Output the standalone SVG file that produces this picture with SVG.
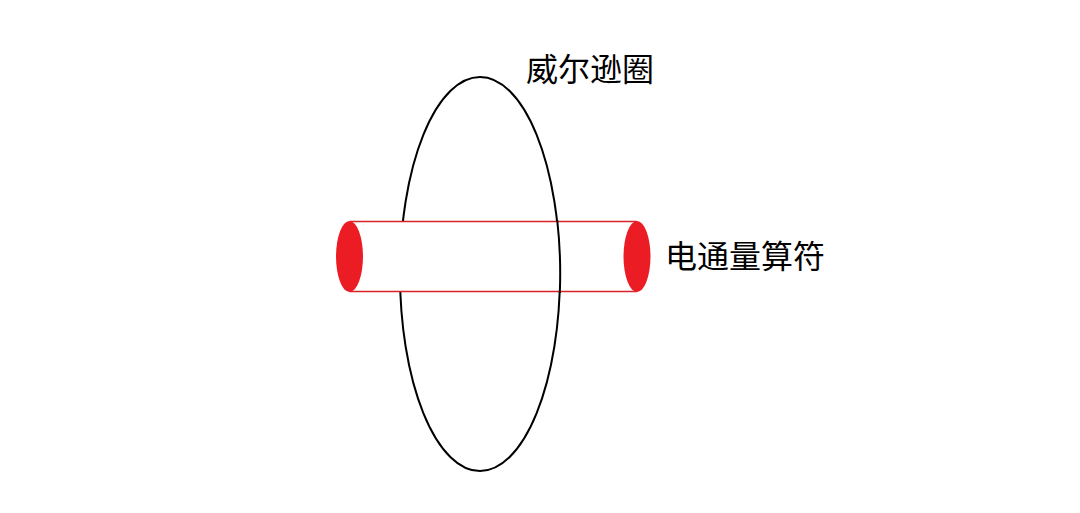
<svg xmlns="http://www.w3.org/2000/svg" width="1080" height="513" viewBox="0 0 1080 513">
<style>
.lbl{font-family:"Noto Sans CJK SC","Noto Sans",sans-serif;font-size:32px;fill:#000}
.loop{fill:none;stroke:#000;stroke-width:2}
.cap{fill:#ec1c24}
.tube{stroke:#d9232a;stroke-width:1.6}
</style>
<rect width="1080" height="513" fill="#fff"/>
<g id="wilson-loop">
<ellipse class="loop" cx="480" cy="274" rx="80" ry="197"/>
</g>
<g id="flux-operator">
<rect x="349.5" y="221.5" width="287.5" height="70" fill="#fff"/>
<line class="tube" x1="349.5" y1="221.5" x2="637" y2="221.5"/>
<line class="tube" x1="349.5" y1="291.5" x2="637" y2="291.5"/>
<ellipse class="cap" cx="349.5" cy="256.5" rx="13.5" ry="35.5"/>
<ellipse class="cap" cx="637" cy="256.5" rx="13.5" ry="35.5"/>
</g>
<g id="connectors">
<path class="loop" d="M557.2 220 A80 197 0 0 1 559.8 293"/>
</g>
<g id="labels">
<text class="lbl" x="526" y="81">威尔逊圈</text>
<text class="lbl" x="665" y="268">电通量算符</text>
</g>
</svg>
